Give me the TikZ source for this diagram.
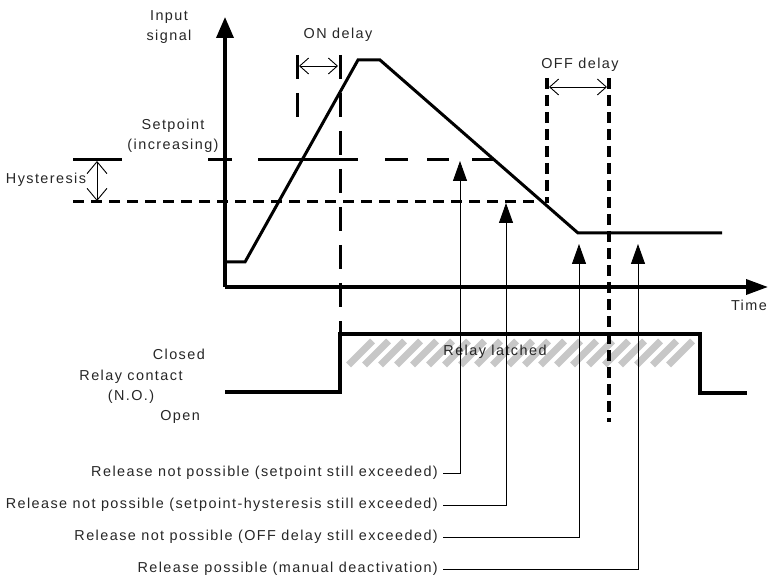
\documentclass[tikz,border=0pt]{standalone}
\usepackage{fontspec}
\setmainfont{Liberation Sans}[LetterSpace=10]
\usetikzlibrary{arrows.meta}
\begin{document}
\begin{tikzpicture}[x=1pt,y=-1pt,
  every node/.style={inner sep=0pt, font=\fontsize{14.4pt}{20.5pt}\selectfont, text=black!85},
  axis/.style={line width=3.5pt},
  sigline/.style={line width=3pt, line join=miter},
  relayline/.style={line width=4pt, line join=miter},
  hair/.style={line width=0.9pt},
  ondash/.style={line width=3pt, dash pattern=on 24pt off 14pt},
  offdash/.style={line width=3.5pt, dash pattern=on 11pt off 6pt},
  hystdash/.style={line width=3pt, dash pattern=on 11pt off 7pt},
  setline/.style={line width=3pt},
  hatch/.style={line width=7pt, black!22},
  uptip/.style={-{Triangle[length=20pt,width=14pt]}},
  dblbarb/.style={{Straight Barb[length=9pt,width=16pt]}-{Straight Barb[length=9pt,width=16pt]}},
  hystbarb/.style={{Straight Barb[length=12pt,width=20pt]}-{Straight Barb[length=12pt,width=20pt]}}
]
\useasboundingbox (0,0) rectangle (768,577);

% hatching of the latched region
\foreach \k in {0,...,20} \draw[hatch] (348.5+16*\k,365) -- ++(24,-24);

% axes
\coordinate (O) at (225,287);
\coordinate (ytop) at (225,17);
\coordinate (xend) at (768,287);
\draw[axis,-{Triangle[length=21pt,width=17pt]}] (O) -- (ytop);
\draw[axis,-{Triangle[length=22pt,width=15pt]}] (O) -- (xend);

% setpoint line (long dashes)
\draw[setline] (73,160) -- (122,160);
\draw[setline] (208,160) -- (232,160);
\draw[setline] (258,160) -- (358,160);
\draw[setline] (385,160) -- (408,160);
\draw[setline] (427,160) -- (449,160);
\draw[setline] (472,160) -- (494,160);

% hysteresis line (short dashes)
\draw[hystdash] (73,202) -- (543,202);

% ON delay lines
\draw[ondash] (297,55) -- (297,123);
\draw[ondash] (340,55) -- (340,334);
% OFF delay lines
\draw[offdash] (547,78) -- (547,203);
\draw[offdash] (609,78) -- (609,422);

% input signal
\draw[sigline] (225,262) -- (245,262) -- (358,60) -- (380,60) -- (578,233) -- (722,233);

% relay contact
\draw[relayline] (225,392) -- (340,392) -- (340,334) -- (700,334) -- (700,393) -- (747,393);

% delay and hysteresis arrows
\draw[hair,dblbarb] (299,66) -- (338,66);
\draw[hair,dblbarb] (549,87) -- (607,87);
\draw[hair,hystbarb] (97,161) -- (97,201);

% texts
\node[align=center] (input) at (169,27) {Input\\signal};
\node (ondelay) at (338,35) {ON delay};
\node (offdelay) at (580,65) {OFF delay};
\node[align=center] (setp) at (173,136) {Setpoint\\(increasing)};
\node (hyst) at (46,180) {Hysteresis};
\node[anchor=east] (time) at (767,305) {Time};
\node[anchor=east] (closed) at (205,354) {Closed};
\node[align=center] (rc) at (131,387) {Relay contact\\(N.O.)};
\node[anchor=east] (open) at (200,417) {Open};
\node (latched) at (495,352) {Relay latched};

% release labels
\node[anchor=east] (l1) at (438,473) {Release not possible (setpoint still exceeded)};
\node[anchor=east] (l2) at (438,505) {Release not possible (setpoint-hysteresis still exceeded)};
\node[anchor=east] (l3) at (438,537) {Release not possible (OFF delay still exceeded)};
\node[anchor=east] (l4) at (438,569) {Release possible (manual deactivation)};

\coordinate (t1) at (460,161);
\coordinate (t2) at (506,203);
\coordinate (t3) at (579,244);
\coordinate (t4) at (638,244);

\draw[hair,uptip] ([xshift=5pt]l1.east) -| (t1);
\draw[hair,uptip] ([xshift=5pt]l2.east) -| (t2);
\draw[hair,uptip] ([xshift=5pt]l3.east) -| (t3);
\draw[hair,uptip] ([xshift=5pt]l4.east) -| (t4);
\end{tikzpicture}
\end{document}
